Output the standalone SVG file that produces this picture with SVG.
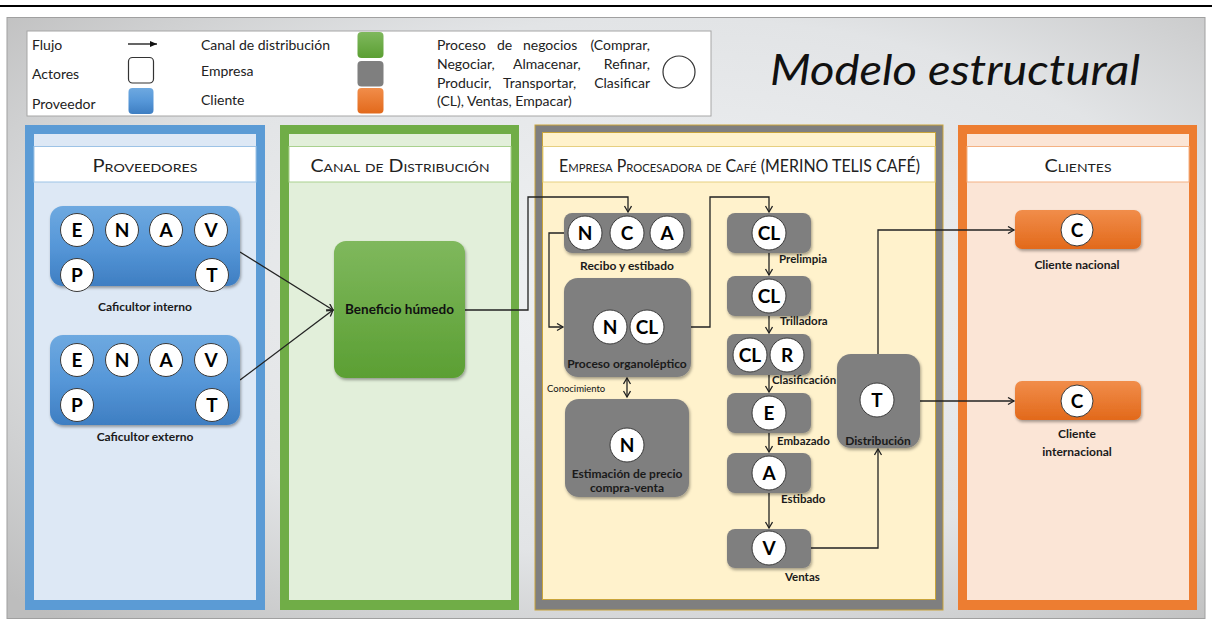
<svg xmlns="http://www.w3.org/2000/svg" width="1212" height="622" viewBox="0 0 1212 622">
  <defs>
    <radialGradient id="bg" cx="0.55" cy="0.45" r="0.75">
      <stop offset="0" stop-color="#f1f3f5"/>
      <stop offset="0.6" stop-color="#e2e4e6"/>
      <stop offset="1" stop-color="#bdbdbd"/>
    </radialGradient>
    <linearGradient id="gBlue" x1="0" y1="0" x2="0" y2="1">
      <stop offset="0" stop-color="#6ea9e0"/>
      <stop offset="0.5" stop-color="#5697d8"/>
      <stop offset="1" stop-color="#3e7ec2"/>
    </linearGradient>
    <linearGradient id="gGreen" x1="0" y1="0" x2="0" y2="1">
      <stop offset="0" stop-color="#7fb85d"/>
      <stop offset="1" stop-color="#5b9f33"/>
    </linearGradient>
    <linearGradient id="gOrange" x1="0" y1="0" x2="0" y2="1">
      <stop offset="0" stop-color="#f18d4a"/>
      <stop offset="1" stop-color="#e2691b"/>
    </linearGradient>
    <filter id="sh" x="-20%" y="-20%" width="140%" height="150%">
      <feDropShadow dx="1" dy="2" stdDeviation="1.6" flood-color="#000" flood-opacity="0.35"/>
    </filter>
    <marker id="arr" markerUnits="userSpaceOnUse" markerWidth="10" markerHeight="10" refX="7" refY="4" orient="auto-start-reverse">
      <path d="M1,0.5 L7,4 L1,7.5" fill="none" stroke="#222" stroke-width="1.3"/>
    </marker>
    <marker id="arrS" markerUnits="userSpaceOnUse" markerWidth="10" markerHeight="10" refX="7" refY="4" orient="auto">
      <path d="M0,1 L7,4 L0,7 Z" fill="#111"/>
    </marker>
    <style>
      text { font-family: Lato, "Liberation Sans", sans-serif; fill: #111; }
      .leg { font-size: 14px; fill: #222; }
      .hdr { font-size: 17px; font-variant: small-caps; text-anchor: middle; fill: #222; }
      .lbl { font-size: 11.5px; font-weight: bold; fill: #1a1a1a; }
      .lblc { font-size: 12px; font-weight: bold; text-anchor: middle; fill: #1a1a1a; }
      .ltr { font-size: 19px; font-weight: bold; text-anchor: middle; fill: #000; }
      .cir { fill: #fff; stroke: #3a3a3a; stroke-width: 1; }
      .ln { fill: none; stroke: #222; stroke-width: 1.3; }
      .gray { fill: #7f7f7f; }
    </style>
  </defs>

  <!-- page rule and background panel -->
  <rect x="0" y="0" width="1212" height="622" fill="#ffffff"/>
  <line x1="0" y1="6" x2="1212" y2="6" stroke="#000" stroke-width="2"/>
  <rect x="7" y="17.5" width="1198" height="601" fill="url(#bg)" stroke="#a0a0a0" stroke-width="1"/>

  <!-- legend -->
  <g id="legend">
    <rect x="27" y="31" width="684" height="85" fill="#fff" stroke="#a6a6a6" stroke-width="1"/>
    <text class="leg" x="32" y="50">Flujo</text>
    <line x1="128" y1="44" x2="157" y2="44" stroke="#111" stroke-width="1.3" marker-end="url(#arrS)"/>
    <text class="leg" x="32" y="79">Actores</text>
    <rect x="128.5" y="57.5" width="25" height="25.5" rx="4" fill="#fff" stroke="#333" stroke-width="1.2"/>
    <text class="leg" x="32" y="109">Proveedor</text>
    <rect x="128.5" y="88" width="25" height="26" rx="4" fill="url(#gBlue)"/>
    <text class="leg" x="201" y="50">Canal de distribución</text>
    <rect x="357.5" y="32" width="26" height="26" rx="4" fill="url(#gGreen)"/>
    <text class="leg" x="201" y="76">Empresa</text>
    <rect x="357.5" y="61" width="26" height="25.5" rx="4" fill="#7f7f7f"/>
    <text class="leg" x="201" y="105">Cliente</text>
    <rect x="357.5" y="88" width="26" height="25.5" rx="4" fill="url(#gOrange)"/>
    <!-- justified paragraph, one word per span -->
    <text class="leg" y="50"><tspan x="437">Proceso</tspan><tspan x="497">de</tspan><tspan x="523">negocios</tspan><tspan x="650" text-anchor="end">(Comprar,</tspan></text>
    <text class="leg" y="69"><tspan x="437">Negociar,</tspan><tspan x="513">Almacenar,</tspan><tspan x="650" text-anchor="end">Refinar,</tspan></text>
    <text class="leg" y="88"><tspan x="437">Producir,</tspan><tspan x="503">Transportar,</tspan><tspan x="650" text-anchor="end">Clasificar</tspan></text>
    <text class="leg" x="437" y="106">(CL), Ventas, Empacar)</text>
    <circle cx="679" cy="72" r="16" fill="#fff" stroke="#333" stroke-width="1.2"/>
  </g>

  <text x="770" y="85" font-size="42" font-style="italic" textLength="370" lengthAdjust="spacingAndGlyphs" fill="#000">Modelo estructural</text>

  <!-- lane: Proveedores -->
  <g id="lane-proveedores">
    <rect x="25" y="125" width="240" height="485" fill="#5b9bd5"/>
    <rect x="34" y="134" width="222" height="466" fill="#dde8f5"/>
    <rect x="34" y="146.5" width="222" height="35.5" fill="#fff" stroke="#9dc3e6" stroke-width="1"/>
    <text class="hdr" x="145" y="172" textLength="105" lengthAdjust="spacingAndGlyphs">Proveedores</text>
  </g>

  <!-- lane: Canal de distribución -->
  <g id="lane-canal">
    <rect x="280" y="125" width="239" height="485" fill="#70ad47"/>
    <rect x="289" y="134" width="222" height="466" fill="#e2efda"/>
    <rect x="289" y="146.5" width="222" height="35.5" fill="#fff" stroke="#a9d18e" stroke-width="1"/>
    <text class="hdr" x="400" y="172" textLength="179" lengthAdjust="spacingAndGlyphs">Canal de Distribución</text>
  </g>

  <!-- lane: Empresa procesadora -->
  <g id="lane-empresa">
    <rect x="535" y="125" width="408" height="485" fill="#7f7f7f" stroke="#c9a43a" stroke-width="1"/>
    <rect x="542.5" y="132.5" width="393" height="467" fill="#fff2cc" stroke="#c9a43a" stroke-width="1"/>
    <rect x="543" y="146.5" width="392" height="35.5" fill="#fff" stroke="#e6cf80" stroke-width="1"/>
    <text class="hdr" x="739.5" y="172" font-size="16" textLength="361" lengthAdjust="spacingAndGlyphs">Empresa Procesadora de Café (MERINO TELIS CAFÉ)</text>
  </g>

  <!-- lane: Clientes -->
  <g id="lane-clientes">
    <rect x="958" y="125" width="239" height="485" fill="#ed7d31"/>
    <rect x="967" y="134" width="222" height="466" fill="#fbe5d6"/>
    <rect x="967" y="146.5" width="222" height="35.5" fill="#fff" stroke="#f4b183" stroke-width="1"/>
    <text class="hdr" x="1078" y="172" textLength="67" lengthAdjust="spacingAndGlyphs">Clientes</text>
  </g>

  <!-- connectors -->
  <g id="connectors">
    <path class="ln" d="M240,252 L333,310" marker-end="url(#arr)"/>
    <path class="ln" d="M240,380 L333,310" marker-end="url(#arr)"/>
    <path class="ln" d="M465,310 H528 V197 H628 V212" marker-end="url(#arr)"/>
    <path class="ln" d="M564,233 H549 V327 H563" marker-end="url(#arr)"/>
    <path class="ln" d="M691,327 H710 V197 H769 V212" marker-end="url(#arr)"/>
    <path class="ln" d="M627,378 V397" marker-start="url(#arr)" marker-end="url(#arr)"/>
    <path class="ln" d="M769,253 V275" marker-end="url(#arr)"/>
    <path class="ln" d="M769,316 V333" marker-end="url(#arr)"/>
    <path class="ln" d="M769,375 V392" marker-end="url(#arr)"/>
    <path class="ln" d="M769,433 V452" marker-end="url(#arr)"/>
    <path class="ln" d="M769,493 V528" marker-end="url(#arr)"/>
    <path class="ln" d="M811,548 H878 V449" marker-end="url(#arr)"/>
    <path class="ln" d="M878,354 V230 H1014" marker-end="url(#arr)"/>
    <path class="ln" d="M920,401 H1014" marker-end="url(#arr)"/>
  </g>

  <!-- suppliers -->
  <g id="caficultor-interno">
    <rect x="50" y="206" width="190" height="80" rx="13" fill="url(#gBlue)" filter="url(#sh)"/>
    <circle class="cir" cx="77" cy="230" r="16.5"/><text class="ltr" x="77" y="237">E</text>
    <circle class="cir" cx="122" cy="230" r="16.5"/><text class="ltr" x="122" y="237">N</text>
    <circle class="cir" cx="166" cy="230" r="16.5"/><text class="ltr" x="166" y="237">A</text>
    <circle class="cir" cx="211" cy="230" r="16.5"/><text class="ltr" x="211" y="237">V</text>
    <circle class="cir" cx="77" cy="275" r="16.5"/><text class="ltr" x="77" y="282">P</text>
    <circle class="cir" cx="212" cy="275" r="16.5"/><text class="ltr" x="212" y="282">T</text>
    <text class="lblc" x="145" y="311">Caficultor interno</text>
  </g>
  <g id="caficultor-externo">
    <rect x="50" y="335" width="190" height="90" rx="13" fill="url(#gBlue)" filter="url(#sh)"/>
    <circle class="cir" cx="77" cy="360" r="16.5"/><text class="ltr" x="77" y="367">E</text>
    <circle class="cir" cx="122" cy="360" r="16.5"/><text class="ltr" x="122" y="367">N</text>
    <circle class="cir" cx="166" cy="360" r="16.5"/><text class="ltr" x="166" y="367">A</text>
    <circle class="cir" cx="211" cy="360" r="16.5"/><text class="ltr" x="211" y="367">V</text>
    <circle class="cir" cx="77" cy="405" r="16.5"/><text class="ltr" x="77" y="412">P</text>
    <circle class="cir" cx="212" cy="405" r="16.5"/><text class="ltr" x="212" y="412">T</text>
    <text class="lblc" x="145" y="441">Caficultor externo</text>
  </g>

  <!-- distribution channel -->
  <g id="beneficio-humedo">
    <rect x="334" y="241" width="131" height="137" rx="12" fill="url(#gGreen)" filter="url(#sh)"/>
    <text x="399.5" y="314" font-size="13.5" font-weight="bold" text-anchor="middle">Beneficio húmedo</text>
  </g>

  <!-- processing company -->
  <g id="recibo-estibado">
    <rect class="gray" x="564" y="213" width="127" height="40" rx="8" filter="url(#sh)"/>
    <circle class="cir" cx="585" cy="233" r="17"/><text class="ltr" x="585" y="240">N</text>
    <circle class="cir" cx="627" cy="233" r="17"/><text class="ltr" x="627" y="240">C</text>
    <circle class="cir" cx="667" cy="233" r="17"/><text class="ltr" x="667" y="240">A</text>
    <text class="lblc" x="627" y="270" font-size="11.5">Recibo y estibado</text>
  </g>
  <g id="proceso-organoleptico">
    <rect class="gray" x="564" y="278" width="127" height="99" rx="14" filter="url(#sh)"/>
    <circle class="cir" cx="610" cy="327" r="17"/><text class="ltr" x="610" y="334">N</text>
    <circle class="cir" cx="647" cy="327" r="17"/><text class="ltr" x="647" y="334">CL</text>
    <text class="lblc" x="627" y="368" font-size="11.5">Proceso organoléptico</text>
  </g>
  <text x="547" y="392" font-size="9.5" fill="#222">Conocimiento</text>
  <g id="estimacion-precio">
    <rect class="gray" x="565" y="399" width="124" height="98" rx="14" filter="url(#sh)"/>
    <circle class="cir" cx="627" cy="445" r="17"/><text class="ltr" x="627" y="452">N</text>
    <text class="lblc" x="627" y="478" font-size="11.5">Estimación de precio</text>
    <text class="lblc" x="627" y="492" font-size="11.5">compra-venta</text>
  </g>
  <g id="prelimpia">
    <rect class="gray" x="727" y="213" width="84" height="40" rx="8" filter="url(#sh)"/>
    <circle class="cir" cx="769" cy="233" r="17"/><text class="ltr" x="769" y="240">CL</text>
    <text class="lbl" x="779" y="263">Prelimpia</text>
  </g>
  <g id="trilladora">
    <rect class="gray" x="727" y="276" width="84" height="40" rx="8" filter="url(#sh)"/>
    <circle class="cir" cx="769" cy="296" r="17"/><text class="ltr" x="769" y="303">CL</text>
    <text class="lbl" x="780" y="325">Trilladora</text>
  </g>
  <g id="clasificacion">
    <rect class="gray" x="727" y="334" width="84" height="41" rx="8" filter="url(#sh)"/>
    <circle class="cir" cx="750" cy="355" r="17"/><text class="ltr" x="750" y="362">CL</text>
    <circle class="cir" cx="787" cy="355" r="17"/><text class="ltr" x="787" y="362">R</text>
    <text class="lbl" x="772" y="384">Clasificación</text>
  </g>
  <g id="embazado">
    <rect class="gray" x="727" y="393" width="84" height="40" rx="8" filter="url(#sh)"/>
    <circle class="cir" cx="769" cy="413" r="17"/><text class="ltr" x="769" y="420">E</text>
    <text class="lbl" x="777" y="445">Embazado</text>
  </g>
  <g id="estibado">
    <rect class="gray" x="727" y="453" width="84" height="40" rx="8" filter="url(#sh)"/>
    <circle class="cir" cx="769" cy="473" r="17"/><text class="ltr" x="769" y="480">A</text>
    <text class="lbl" x="781" y="503">Estibado</text>
  </g>
  <g id="ventas">
    <rect class="gray" x="727" y="529" width="84" height="39" rx="8" filter="url(#sh)"/>
    <circle class="cir" cx="769" cy="548" r="17"/><text class="ltr" x="769" y="555">V</text>
    <text class="lbl" x="785" y="581">Ventas</text>
  </g>
  <g id="distribucion">
    <rect class="gray" x="837" y="354" width="83" height="94" rx="14" filter="url(#sh)"/>
    <circle class="cir" cx="877" cy="400" r="17"/><text class="ltr" x="877" y="407">T</text>
    <text class="lblc" x="878" y="445" font-size="11.5">Distribución</text>
  </g>

  <!-- customers -->
  <g id="cliente-nacional">
    <rect x="1015" y="210" width="126" height="39" rx="7" fill="url(#gOrange)" filter="url(#sh)"/>
    <circle class="cir" cx="1077" cy="230" r="16"/><text class="ltr" x="1077" y="237">C</text>
    <text class="lblc" x="1077" y="269">Cliente nacional</text>
  </g>
  <g id="cliente-internacional">
    <rect x="1015" y="381" width="126" height="39" rx="7" fill="url(#gOrange)" filter="url(#sh)"/>
    <circle class="cir" cx="1077" cy="401" r="16"/><text class="ltr" x="1077" y="408">C</text>
    <text class="lblc" x="1077" y="438">Cliente</text>
    <text class="lblc" x="1077" y="456">internacional</text>
  </g>
</svg>
